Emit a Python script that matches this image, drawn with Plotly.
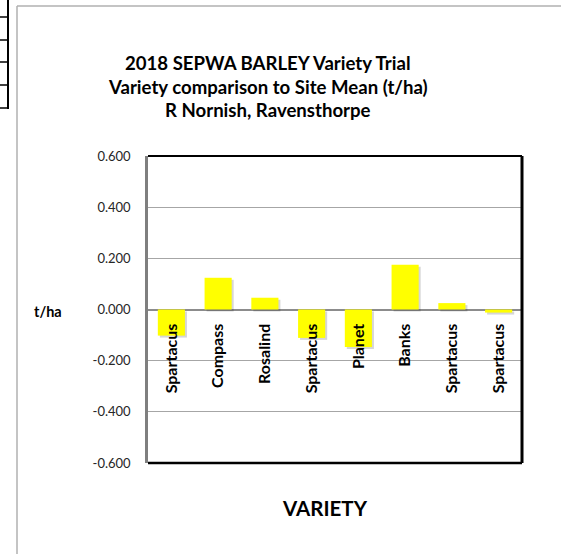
import plotly.graph_objects as go

# ---- data ----
varieties = ["Spartacus", "Compass", "Rosalind", "Spartacus", "Planet", "Banks", "Spartacus", "Spartacus"]
diff_from_mean = [-0.102, 0.124, 0.046, -0.111, -0.147, 0.175, 0.025, -0.012]
y_tick_values = [-0.6, -0.4, -0.2, 0.0, 0.2, 0.4, 0.6]
title_lines = [
    "2018 SEPWA BARLEY Variety Trial",
    "Variety comparison to Site Mean (t/ha)",
    "R Nornish, Ravensthorpe",
]
x_title = "VARIETY"
y_title = "t/ha"

# ---- layout geometry (pixels) ----
W, H = 561, 554
L, R, T, B = 148, 39, 156, 91
PW, PH = W - L - R, H - T - B


def px(x):
    return (x - L) / PW


def py(y):
    return (H - B - y) / PH


FONT = "Lato, Carlito, Calibri, sans-serif"
positions = list(range(len(varieties)))
y_tick_text = [f"{v:.3f}" for v in y_tick_values]
BAR_W = 0.58
SHADOW_DX = 2.0 / (PW / len(varieties))   # ~2 px, in category units
SHADOW_DY = 2.0 * 1.2 / PH                 # ~2 px, in value units

fig = go.Figure()
# soft drop shadow behind bars
fig.add_trace(go.Bar(
    x=positions, y=diff_from_mean, base=[-SHADOW_DY] * len(positions),
    width=BAR_W, offset=-BAR_W / 2 + SHADOW_DX,
    marker=dict(color="rgba(0,0,0,0.16)", line=dict(width=0)),
    hoverinfo="skip", showlegend=False,
))
fig.add_trace(go.Bar(
    x=positions, y=diff_from_mean, width=BAR_W, offset=-BAR_W / 2,
    marker=dict(color="#FFFF00", line=dict(width=0)),
    hoverinfo="skip", showlegend=False,
))

fig.update_xaxes(
    range=[-0.5, len(varieties) - 0.5],
    tickmode="array", tickvals=positions, ticktext=varieties,
    tickangle=-90, anchor="free", position=0.5,
    showline=False, showgrid=False, zeroline=False,
    ticks="", ticklabelstandoff=10,
    tickfont=dict(family=FONT, size=16, color="#000000", weight="bold"),
)
fig.update_yaxes(
    range=[-0.6, 0.6], tickmode="array", tickvals=y_tick_values, ticktext=y_tick_text,
    showgrid=True, gridcolor="#a6a6a6", gridwidth=1,
    zeroline=True, zerolinecolor="#8c8c8c", zerolinewidth=1.5,
    showline=True, linecolor="#7f7f7f", linewidth=2.5, ticks="",
    ticklabelstandoff=12,
    tickfont=dict(family=FONT, size=13, color="#262626"),
)

shapes = []
# plot area box (top, right, bottom in black)
shapes.append(dict(type="line", xref="paper", yref="paper", x0=0, x1=1, y0=1, y1=1,
                   line=dict(color="#000000", width=2)))
shapes.append(dict(type="line", xref="paper", yref="paper", x0=1, x1=1, y0=0, y1=1,
                   line=dict(color="#000000", width=3)))
shapes.append(dict(type="line", xref="paper", yref="paper", x0=0, x1=1, y0=0, y1=0,
                   line=dict(color="#000000", width=2.5)))
# outer chart frame
shapes.append(dict(type="line", xref="paper", yref="paper", x0=px(17), x1=px(W + 5), y0=py(6), y1=py(6),
                   line=dict(color="#b0b0b0", width=1.5)))
shapes.append(dict(type="line", xref="paper", yref="paper", x0=px(17), x1=px(17), y0=py(6), y1=py(H + 5),
                   line=dict(color="#b0b0b0", width=1.5)))
# spreadsheet cell lines at top-left
shapes.append(dict(type="line", xref="paper", yref="paper", x0=px(8), x1=px(8), y0=py(-2), y1=py(109),
                   line=dict(color="#000000", width=2)))
for yy in [17, 40, 62, 85, 108]:
    shapes.append(dict(type="line", xref="paper", yref="paper", x0=px(-2), x1=px(8), y0=py(yy), y1=py(yy),
                       line=dict(color="#000000", width=1.5)))

annotations = []
for yy, line in zip([63, 87, 110], title_lines):
    annotations.append(dict(text=f"<b>{line}</b>", xref="paper", yref="paper", x=px(268), y=py(yy),
                            xanchor="center", yanchor="middle", showarrow=False,
                            font=dict(family=FONT, size=18.6, color="#000000")))
annotations.append(dict(text=f"<b>{x_title}</b>", xref="paper", yref="paper", x=px(325), y=py(508),
                        xanchor="center", yanchor="middle", showarrow=False,
                        font=dict(family=FONT, size=20.5, color="#000000")))
annotations.append(dict(text=f"<b>{y_title}</b>", xref="paper", yref="paper", x=px(48), y=py(311),
                        xanchor="center", yanchor="middle", showarrow=False,
                        font=dict(family=FONT, size=14.5, color="#000000")))

fig.update_layout(
    width=W, height=H,
    margin=dict(l=L, r=R, t=T, b=B),
    paper_bgcolor="#ffffff", plot_bgcolor="#ffffff",
    barmode="overlay", showlegend=False,
    shapes=shapes, annotations=annotations,
)

fig.write_html(
    "out.html",
    config={"displayModeBar": False},
    post_script="document.body.style.margin='0';document.body.style.padding='0';",
)
